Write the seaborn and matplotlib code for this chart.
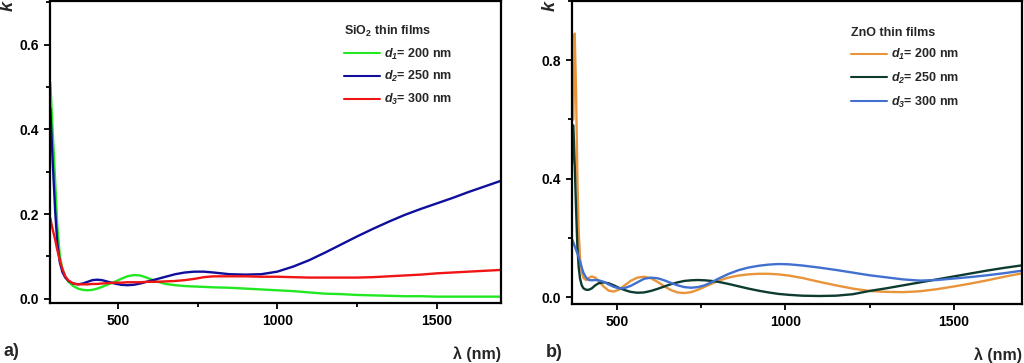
import numpy as np
import pandas as pd
import matplotlib
matplotlib.use("Agg")
import matplotlib.pyplot as plt
from matplotlib.ticker import MultipleLocator, AutoMinorLocator
from matplotlib.lines import Line2D
import seaborn as sns

# === Data ===
wl_sio2 = [288, 295, 303, 310, 318, 326, 335, 345, 360, 375, 390, 405, 420, 435, 450,
           470, 490, 510, 530, 550, 570, 590, 620, 650, 680, 710, 740, 770, 800, 850,
           900, 950, 1000, 1050, 1100, 1150, 1200, 1250, 1300, 1350, 1400, 1450, 1500,
           1550, 1600, 1650, 1700]
k_sio2_d1 = [0.51, 0.40, 0.28, 0.17, 0.10, 0.07, 0.052, 0.040, 0.030, 0.024, 0.021, 0.020,
             0.021, 0.024, 0.028, 0.034, 0.040, 0.047, 0.053, 0.056, 0.055, 0.050, 0.041,
             0.035, 0.032, 0.030, 0.029, 0.028, 0.027, 0.026, 0.024, 0.022, 0.020, 0.018,
             0.015, 0.012, 0.011, 0.009, 0.008, 0.007, 0.006, 0.006, 0.005, 0.005, 0.005,
             0.005, 0.005]
k_sio2_d2 = [0.45, 0.33, 0.21, 0.13, 0.085, 0.063, 0.050, 0.042, 0.036, 0.034, 0.036, 0.040,
             0.044, 0.045, 0.044, 0.040, 0.036, 0.033, 0.032, 0.033, 0.036, 0.040, 0.046,
             0.052, 0.058, 0.062, 0.064, 0.064, 0.062, 0.058, 0.057, 0.058, 0.064, 0.076,
             0.091, 0.109, 0.128, 0.147, 0.165, 0.182, 0.198, 0.212, 0.225, 0.238, 0.252,
             0.265, 0.278]
k_sio2_d3 = [0.19, 0.165, 0.14, 0.115, 0.09, 0.07, 0.053, 0.043, 0.036, 0.034, 0.034, 0.034,
             0.035, 0.035, 0.036, 0.037, 0.038, 0.038, 0.039, 0.039, 0.039, 0.040, 0.040,
             0.041, 0.042, 0.044, 0.047, 0.051, 0.053, 0.053, 0.053, 0.052, 0.052, 0.051,
             0.050, 0.050, 0.050, 0.050, 0.051, 0.053, 0.055, 0.057, 0.060, 0.062, 0.064,
             0.066, 0.068]

wl_zno = [366, 370, 374, 378, 382, 386, 390, 395, 400, 408, 416, 425, 435, 445, 460, 475,
          490, 505, 520, 540, 560, 580, 600, 620, 640, 660, 680, 700, 720, 740, 760, 780,
          800, 830, 860, 890, 920, 950, 980, 1010, 1050, 1100, 1150, 1200, 1250, 1300,
          1350, 1400, 1450, 1500, 1550, 1600, 1650, 1700]
k_zno_d1 = [np.nan, 0.60, 0.89, 0.70, 0.40, 0.22, 0.13, 0.085, 0.065, 0.058, 0.065, 0.070,
            0.066, 0.055, 0.036, 0.022, 0.019, 0.025, 0.038, 0.055, 0.066, 0.069, 0.064,
            0.052, 0.037, 0.024, 0.016, 0.014, 0.017, 0.025, 0.035, 0.045, 0.055, 0.066,
            0.073, 0.077, 0.079, 0.079, 0.077, 0.073, 0.065, 0.052, 0.040, 0.029, 0.021,
            0.018, 0.017, 0.020, 0.027, 0.036, 0.046, 0.057, 0.069, 0.080]
k_zno_d2 = [0.45, 0.58, 0.45, 0.30, 0.17, 0.10, 0.062, 0.040, 0.030, 0.025, 0.025, 0.030,
            0.040, 0.047, 0.050, 0.047, 0.040, 0.032, 0.025, 0.018, 0.015, 0.016, 0.021,
            0.028, 0.036, 0.044, 0.050, 0.055, 0.057, 0.058, 0.057, 0.055, 0.052, 0.045,
            0.037, 0.029, 0.022, 0.016, 0.011, 0.008, 0.005, 0.004, 0.005, 0.010, 0.021,
            0.030, 0.040, 0.050, 0.060, 0.070, 0.080, 0.090, 0.099, 0.107]
k_zno_d3 = [0.196, 0.185, 0.172, 0.160, 0.148, 0.135, 0.120, 0.100, 0.082, 0.066, 0.058,
            0.057, 0.058, 0.057, 0.052, 0.043, 0.035, 0.030, 0.030, 0.038, 0.050, 0.062,
            0.066, 0.064, 0.057, 0.048, 0.040, 0.034, 0.032, 0.034, 0.040, 0.050, 0.062,
            0.078, 0.091, 0.100, 0.106, 0.110, 0.112, 0.111, 0.107, 0.100, 0.092, 0.083,
            0.074, 0.067, 0.060, 0.056, 0.058, 0.063, 0.068, 0.074, 0.081, 0.089]

labels = [r"$\mathbfit{d}_\mathbfit{1}$= 200 nm",
          r"$\mathbfit{d}_\mathbfit{2}$= 250 nm",
          r"$\mathbfit{d}_\mathbfit{3}$= 300 nm"]
sio2_colors = ["#22e822", "#0f0f9c", "#f01414"]
zno_colors = ["#e8943a", "#0e3b30", "#4170cf"]

# === Style ===
sns.set_theme(style="ticks")
plt.rcParams["font.family"] = ["Liberation Sans", "DejaVu Sans"]
plt.rcParams["mathtext.fontset"] = "custom"
plt.rcParams["mathtext.rm"] = "Liberation Sans:bold"
plt.rcParams["mathtext.bf"] = "Liberation Sans:bold"
plt.rcParams["mathtext.it"] = "Liberation Sans:bold:italic"
plt.rcParams["mathtext.bfit"] = "Liberation Sans:bold:italic"


def long_form(wl, series):
    frames = []
    for lab, vals in zip(labels, series):
        frames.append(pd.DataFrame({"wl": wl, "k": vals, "film": lab}))
    return pd.concat(frames, ignore_index=True).dropna()


def style_axis(ax, xlim, ylim, ymajor, title, colors, leg_anchor, spacing, k_x, tag):
    ax.set_xlim(*xlim)
    ax.set_ylim(*ylim)
    ax.xaxis.set_major_locator(MultipleLocator(500))
    ax.xaxis.set_minor_locator(AutoMinorLocator(2))
    ax.yaxis.set_major_locator(MultipleLocator(ymajor))
    ax.yaxis.set_minor_locator(AutoMinorLocator(2))
    ax.tick_params(which="both", direction="out", width=1.3, colors="black")
    ax.tick_params(which="major", length=4, labelsize=10, pad=4)
    ax.tick_params(which="minor", length=3)
    for lab in ax.get_xticklabels() + ax.get_yticklabels():
        lab.set_fontweight("bold")
    for sp in ax.spines.values():
        sp.set_visible(True)
        sp.set_linewidth(1.6)
        sp.set_color("black")
    ax.set_xlabel("λ (nm)", loc="right", fontsize=11.5, fontweight="bold", labelpad=13)
    ax.set_ylabel("")
    ax.text(k_x, 0.985, "k", transform=ax.transAxes, rotation=90, ha="center", va="center",
            fontsize=13, fontweight="bold", fontstyle="italic")
    ax.text(k_x - 0.01, -0.16, tag, transform=ax.transAxes, ha="left", va="center",
            fontsize=13, fontweight="bold")
    handles = [Line2D([], [], color=c, lw=1.5) for c in colors]
    leg = ax.legend(handles, labels, title=title, loc="upper left", bbox_to_anchor=leg_anchor,
                    frameon=False, prop={"size": 9, "weight": "bold"}, title_fontsize=9,
                    handlelength=2.9, handletextpad=0.3, labelspacing=spacing, borderpad=0,
                    borderaxespad=0, alignment="left")
    leg.get_title().set_fontweight("bold")


fig = plt.figure(figsize=(10.24, 3.63), dpi=100)
ax1 = fig.add_axes([50 / 1024, 60 / 363, 451 / 1024, 302 / 363])
ax2 = fig.add_axes([572 / 1024, 59 / 363, 450 / 1024, 303 / 363])

sns.lineplot(data=long_form(wl_sio2, [k_sio2_d1, k_sio2_d2, k_sio2_d3]), x="wl", y="k",
             hue="film", palette=sio2_colors, lw=1.7, ax=ax1, legend=False, sort=False)
sns.lineplot(data=long_form(wl_zno, [k_zno_d1, k_zno_d2, k_zno_d3]), x="wl", y="k",
             hue="film", palette=zno_colors, lw=1.7, ax=ax2, legend=False, sort=False)

style_axis(ax1, (287, 1702), (-0.01, 0.703), 0.2, r"SiO$_\mathbf{2}$ thin films",
           sio2_colors, (0.652, 0.925), 0.62, -0.093, "a)")
style_axis(ax2, (366, 1703), (-0.023, 1.0), 0.4, "ZnO thin films",
           zno_colors, (0.62, 0.915), 0.68, -0.049, "b)")

fig.savefig("out.png", dpi=100)
